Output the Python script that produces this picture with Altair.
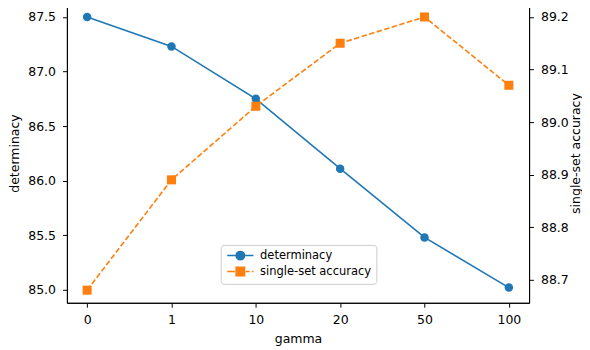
import altair as alt
import pandas as pd

gamma = ["0", "1", "10", "20", "50", "100"]
determinacy = [87.50, 87.23, 86.75, 86.11, 85.48, 85.02]
accuracy = [88.68, 88.89, 89.03, 89.15, 89.20, 89.07]
series = ["determinacy", "single-set accuracy"]
colors = ["#1f77b4", "#ff7f0e"]
left_ticks = [85.0, 85.5, 86.0, 86.5, 87.0, 87.5]
right_ticks = [88.7, 88.8, 88.9, 89.0, 89.1, 89.2]

df = pd.DataFrame({"gamma": gamma, "determinacy": determinacy, "accuracy": accuracy})
legend_df = pd.DataFrame({"series": series})

FONT = "DejaVu Sans"
FS = 12.5

x = alt.X("gamma:O", sort=gamma,
          scale=alt.Scale(type="point", padding=0.24),
          axis=alt.Axis(title="gamma", labelAngle=0, labelPadding=6, titlePadding=7))

yl = alt.Y("determinacy:Q",
           scale=alt.Scale(domain=[84.881, 87.625], nice=False, zero=False),
           axis=alt.Axis(title="determinacy", orient="left", values=left_ticks,
                         format=".1f", labelPadding=7, titlePadding=6))
yr = alt.Y("accuracy:Q",
           scale=alt.Scale(domain=[88.656, 89.226], nice=False, zero=False),
           axis=alt.Axis(title="single-set accuracy", orient="right", values=right_ticks,
                         format=".1f", labelPadding=7, titlePadding=1, titleAngle=270,
                         titleBaseline="top"))

base = alt.Chart(df)
left = alt.layer(
    base.mark_line(color=colors[0], strokeWidth=1.6).encode(x=x, y=yl),
    base.mark_point(filled=True, shape="circle", size=72, color=colors[0], opacity=1).encode(x=x, y=yl),
)
right = alt.layer(
    base.mark_line(color=colors[1], strokeWidth=1.6, strokeDash=[5.5, 2.4]).encode(x=x, y=yr),
    base.mark_point(filled=True, shape="square", size=82, color=colors[1], opacity=1).encode(x=x, y=yr),
)

circle_path = "M-3.1,0H3.1M1,0A1,1,0,1,1,-1,0A1,1,0,1,1,1,0Z"
square_path = "M-3.1,0H-1.3M1.3,0H2.2M2.7,0H3.1M-1,-1H1V1H-1Z"

leg = alt.Legend(title=None, orient="none", legendX=154, legendY=242,
                 fillColor="white", strokeColor="#cccccc", cornerRadius=3,
                 padding=5, symbolOpacity=1, symbolSize=72, symbolStrokeWidth=1.5,
                 symbolOffset=9, labelOffset=14, rowPadding=1,
                 labelFont=FONT, labelFontSize=11.5, labelColor="black")

legend_layer = alt.Chart(legend_df).mark_point(filled=True, opacity=0).encode(
    shape=alt.Shape("series:N", scale=alt.Scale(domain=series, range=[circle_path, square_path]), legend=leg),
    fill=alt.Fill("series:N", scale=alt.Scale(domain=series, range=colors), legend=leg),
    stroke=alt.Stroke("series:N", scale=alt.Scale(domain=series, range=colors), legend=leg),
)

chart = alt.layer(left, right, legend_layer).resolve_scale(y="independent").properties(
    width=463, height=300,
    padding={"top": -5, "left": 0, "right": 0, "bottom": 0},
).configure_view(
    stroke="black", strokeWidth=1
).configure_axis(
    grid=False, domainColor="black", tickColor="black", labelColor="black",
    titleColor="black", tickSize=4.4,
    labelFont=FONT, titleFont=FONT, labelFontSize=FS, titleFontSize=FS,
    titleFontWeight="normal"
)

chart.save("out.html", embed_options={"renderer": "svg", "actions": False})
